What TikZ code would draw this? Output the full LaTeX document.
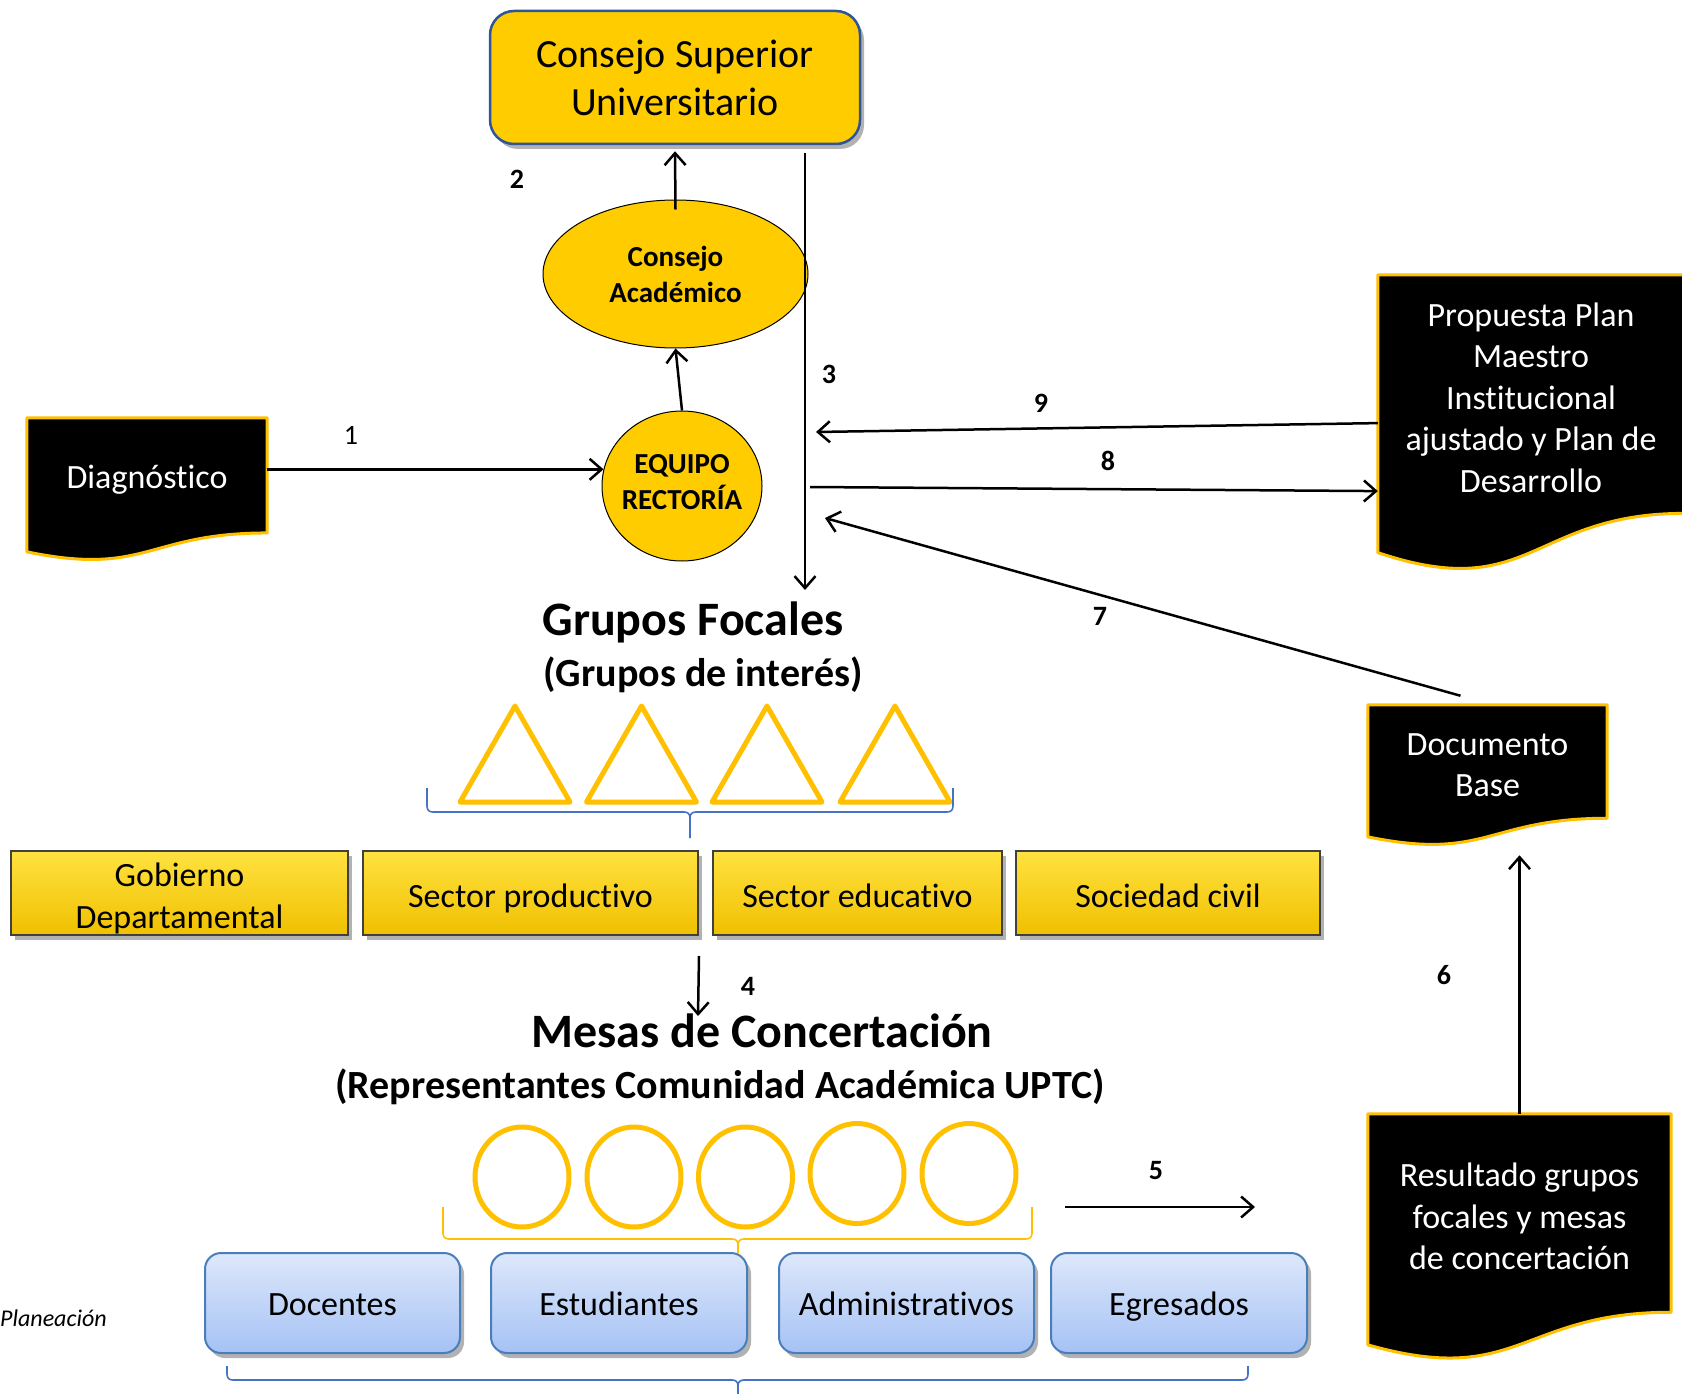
\documentclass[tikz,border=0pt]{standalone}
\usepackage{fontspec}
\setmainfont{Carlito}[Ligatures=NoCommon]
\usetikzlibrary{arrows.meta,shapes.geometric,shadows,calc}
\pgfdeclarelayer{background}
\pgfsetlayers{background,main}
\definecolor{gold}{HTML}{FFC000}
\definecolor{goldfill}{HTML}{FFCC00}
\definecolor{csuborder}{HTML}{2F5597}
\definecolor{bluebr}{HTML}{4472C4}
\definecolor{blueborder}{HTML}{4A7EBB}
\definecolor{gtop}{HTML}{FFE240}
\definecolor{gmid}{HTML}{FFD700}
\definecolor{gbot}{HTML}{F0C000}
\definecolor{btop}{HTML}{DDE8FA}
\definecolor{bbot}{HTML}{A5C2F5}
\newcommand{\szforty}{\fontsize{40}{48}\selectfont}
\newcommand{\szdoc}{\fontsize{34}{41.5}\selectfont}
\newcommand{\szell}{\fontsize{29}{36}\selectfont}
\newcommand{\szlab}{\fontsize{28}{34}\selectfont}
\newcommand{\sztitle}{\fontsize{48}{58}\selectfont}
\newcommand{\szsub}{\fontsize{40}{48}\selectfont}
\newcommand{\szcap}{\fontsize{24}{29}\selectfont}
% document wave shape behind a node: #1 node name, #2 full height
\newcommand{\docwave}[2]{%
  \begin{pgfonlayer}{background}
  \draw[docshape] (#1.north west) -- (#1.north east) -- (#1.south east)
    .. controls (#1.south) and ($(#1.south)+(0,{0.3055*#2})$) ..
    ($(#1.south west)+(0,{0.132*#2})$) -- cycle;
  \end{pgfonlayer}}
% brace: #1 colour, #2 x left, #3 x right, #4 y top, #5 y horizontal, #6 x middle, #7 y tip
\newcommand{\mybrace}[7]{%
  \draw[#1, line width=1.6pt, line join=round]
    (#2,#4) -- (#2,{#5-6}) .. controls (#2,{#5-2}) and ({#2+2},#5) .. ({#2+6},#5)
    -- ({#6-6},#5) .. controls ({#6-2},#5) and (#6,{#5+2}) .. (#6,{#5+6}) -- (#6,#7);
  \draw[#1, line width=1.6pt, line join=round]
    (#3,#4) -- (#3,{#5-6}) .. controls (#3,{#5-2}) and ({#3-2},#5) .. ({#3-6},#5)
    -- ({#6+6},#5) .. controls ({#6+2},#5) and (#6,{#5+2}) .. (#6,{#5+6});}
\begin{document}
\begin{tikzpicture}[x=1pt,y=-1pt,
  arr/.style={draw=black, line width=2.5pt, -{Straight Barb[length=12pt,width=21pt]}},
  docshape/.style={fill=black, draw=gold, line width=3pt, line join=round},
  docnode/.style={rectangle, inner sep=0pt},
  doctext/.style={label={[text=white, align=center, font=\szdoc, yshift=-3.5pt]center:{#1}}},
  lab/.style={font=\szlab\bfseries, inner sep=0pt},
  shad/.style={drop shadow={shadow xshift=4pt, shadow yshift=-5pt, opacity=0.3, fill=black}},
  grect/.style={rectangle, draw=black!75, line width=2pt, top color=gtop, middle color=gmid, bottom color=gbot, shad, font=\szdoc, align=center, inner sep=0pt, minimum height=84pt, text height=31pt, text depth=3pt},
  bbox/.style={rectangle, rounded corners=16pt, draw=blueborder, line width=2pt, top color=btop, bottom color=bbot, shad, font=\szdoc, inner sep=0pt, minimum height=100pt, text height=28pt, text depth=4pt},
  tri/.style={draw=gold, line width=5pt, line join=round},
  circ/.style={draw=gold, line width=5pt}
]
\begin{pgfonlayer}{background}
\fill[white] (0,0) rectangle (1682,1394);
\end{pgfonlayer}
\useasboundingbox (0,0) rectangle (1682,1394);

% top nodes
\node[rectangle, rounded corners=24pt, fill=goldfill, draw=csuborder, line width=2.5pt, shad,
      minimum width=370pt, minimum height=133pt, font=\szforty, align=center, inner sep=0pt]
      (csu) at (675,77.5) {Consejo Superior\\Universitario};
\node[ellipse, fill=goldfill, draw=black, line width=1pt, minimum width=265pt, minimum height=148pt,
      inner sep=0pt, font=\szell\bfseries, align=center] (acad) at (675.5,274) {Consejo\\Académico};
\node[ellipse, fill=goldfill, draw=black, line width=1pt, minimum width=160pt, minimum height=150pt,
      inner sep=0pt,
      label={[font=\szell\bfseries, align=center, yshift=4.3pt]center:{EQUIPO\\RECTORÍA}}] (eq) at (682,486) {};

% documents
\node[docnode, minimum width=240pt, minimum height=114.7pt,
      label={[text=white, font=\szdoc, yshift=-4.5pt]center:{Diagnóstico}}] (diag) at (147,475.4) {};
\docwave{diag}{143}
\node[docnode, minimum width=306pt, minimum height=238.2pt,
      doctext={Propuesta Plan\\Maestro\\Institucional\\ajustado y Plan de\\Desarrollo}] (prop) at (1531,394.1) {};
\docwave{prop}{297}
\node[docnode, minimum width=239pt, minimum height=113.1pt,
      doctext={Documento\\Base}] (dbase) at (1487.5,761.5) {};
\docwave{dbase}{141}
\node[docnode, minimum width=303pt, minimum height=198.1pt,
      doctext={Resultado grupos\\focales y mesas\\de concertación}] (res) at (1519.5,1213) {};
\docwave{res}{247}

% titles
\node[font=\sztitle\bfseries, inner sep=0pt] (gf) at (693,622) {Grupos Focales};
\node[font=\szsub\bfseries, inner sep=0pt] (gfs) at (703,675) {(Grupos de interés)};
\node[font=\sztitle\bfseries, inner sep=0pt] (mc) at (762,1031) {Mesas de Concertación};
\node[font=\szsub\bfseries, inner sep=0pt] (mcs) at (720,1087) {(Representantes Comunidad Académica UPTC)};

% triangles
\foreach \x in {515,641.5,767,895}
  \draw[tri] (\x,706) -- ({\x+55},802) -- ({\x-55},802) -- cycle;
\mybrace{bluebr}{427}{953}{788}{812}{690}{838}

% gold rectangles
\node[grect, minimum width=337pt, text height=, text depth=,
      label={[font=\szdoc, align=center, yshift=-5.4pt]center:{Gobierno\\Departamental}}] (gob) at (179.5,893) {};
\node[grect, minimum width=335pt] (sp) at (530.5,893) {Sector productivo};
\node[grect, minimum width=289pt] (se) at (857.5,893) {Sector educativo};
\node[grect, minimum width=304pt] (sc) at (1168,893) {Sociedad civil};

% circles
\foreach \x/\y in {522/1177,634/1177,745.5/1177,857/1173.5,969/1173.5}
  \draw[circ] (\x,\y) ellipse [x radius=47, y radius=50];
\mybrace{gold}{443}{1032}{1207}{1239}{738}{1253}

% blue boxes
\node[bbox, minimum width=255pt] (doc) at (332.5,1303) {Docentes};
\node[bbox, minimum width=256pt] (est) at (619,1303) {Estudiantes};
\node[bbox, minimum width=255pt] (adm) at (906.5,1303) {Administrativos};
\node[bbox, minimum width=256pt] (egr) at (1179,1303) {Egresados};
\mybrace{bluebr}{227}{1248}{1366}{1380}{738}{1396}

\node[font=\szcap\itshape, anchor=west, inner sep=0pt] (plan) at (0,1318) {Planeación};

% free connector ends
\coordinate (a3e) at (805,590);
\coordinate (a9e) at (816,432);
\coordinate (a8s) at (810,487);
\coordinate (a7e) at (825,518);
\coordinate (a4e) at (698,1016);
\coordinate (a5s) at (1065,1207);
\coordinate (a5e) at (1255,1207);

% connectors
\draw[arr] (diag.east |- eq.168.5) -- (eq.168.5);
\draw[arr] (eq.north) -- (acad.south);
\draw[arr] ([yshift=-10pt]acad.north) -- ([yshift=-6pt]csu.south);
\draw[arr] ([xshift=130pt,yshift=-8pt]csu.south) -- (a3e);
\draw[arr] ([yshift=-29pt]prop.west) -- (a9e);
\draw[arr] (a8s) -- ([yshift=-97pt]prop.west);
\draw[arr] ([xshift=-27pt,yshift=9pt]dbase.north) -- (a7e);
\draw[arr] ([yshift=-20pt]sp.south east) -- (a4e);
\draw[arr] (a5s) -- (a5e);
\draw[arr, shorten >=37pt] (res.north) -- (res.north |- dbase.south);

% labels
\node[font=\szlab, inner sep=0pt] (l1) at (351,435) {1};
\node[lab] (l2) at (517,179) {2};
\node[lab] (l3) at (829,374) {3};
\node[lab] (l9) at (1041,403) {9};
\node[lab] (l8) at (1108,461) {8};
\node[lab] (l7) at (1100,616) {7};
\node[lab] (l4) at (748,986) {4};
\node[lab] (l5) at (1156,1171) {5};
\node[lab] (l6) at (1444,975) {6};
\end{tikzpicture}
\end{document}
